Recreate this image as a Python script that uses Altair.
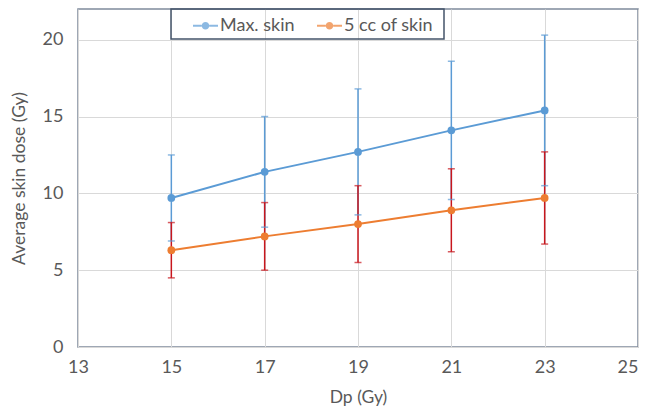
import altair as alt
import pandas as pd

dp = [15, 17, 19, 21, 23]
series_names = ["Max. skin", "5 cc of skin"]
max_skin = [9.7, 11.4, 12.7, 14.1, 15.4]
max_skin_err = [2.8, 3.6, 4.1, 4.5, 4.9]
cc5 = [6.3, 7.2, 8.0, 8.9, 9.7]
cc5_err = [1.8, 2.2, 2.5, 2.7, 3.0]
line_colors = ["#5b9bd5", "#ed7d31"]
err_colors = ["#5b9bd5", "#c8161d"]

rows = []
for name, vals, errs, ec in [
    (series_names[0], max_skin, max_skin_err, err_colors[0]),
    (series_names[1], cc5, cc5_err, err_colors[1]),
]:
    for x, v, e in zip(dp, vals, errs):
        rows.append({"dp": x, "dose": v, "lo": v - e, "hi": v + e, "series": name, "ecol": ec})
df = pd.DataFrame(rows)

font = "Lato"
txt = "#595959"

x_enc = alt.X("dp:Q", scale=alt.Scale(domain=[13, 25], nice=False, zero=False),
              axis=alt.Axis(values=list(range(13, 26, 2)), title="Dp (Gy)", labelFlush=False,
                            labelAlign={"condition": {"test": "datum.value >= 25", "value": "right"},
                                        "value": "center"},
                            labelPadding=11, titlePadding=12))
y_scale = alt.Scale(domain=[0, 22], nice=False)
y_axis = alt.Axis(values=[0, 5, 10, 15, 20], title="Average skin dose (Gy)",
                  labelPadding=15, titlePadding=14)

base = alt.Chart(df)

rules = base.mark_rule(strokeWidth=1.5).encode(
    x=x_enc,
    y=alt.Y("lo:Q", scale=y_scale, axis=y_axis),
    y2="hi:Q",
    color=alt.Color("ecol:N", scale=None),
)
cap_lo = base.mark_tick(orient="horizontal", size=7, thickness=1.5).encode(
    x="dp:Q", y="lo:Q", color=alt.Color("ecol:N", scale=None))
cap_hi = base.mark_tick(orient="horizontal", size=7, thickness=1.5).encode(
    x="dp:Q", y="hi:Q", color=alt.Color("ecol:N", scale=None))

sym = ("M-1,-0.08H-0.3V0.08H-1Z M0.3,-0.08H1V0.08H0.3Z "
       "M-0.3,0A0.3,0.3,0,1,0,0.3,0A0.3,0.3,0,1,0,-0.3,0Z")
legend = alt.Legend(
    title=" ", titleOrient="right", titlePadding=7, titleFontSize=8,
    orient="none", legendX=93, legendY=0,
    direction="horizontal", columns=2, columnPadding=4,
    symbolType=sym, symbolSize=625, symbolStrokeWidth=0,
    symbolOffset=18, padding=4, labelOffset=2,
    labelFont=font, labelFontSize=18, labelColor=txt,
    strokeColor="#44546a",
)
color_scale = alt.Scale(domain=series_names, range=line_colors)
color_enc = alt.Color("series:N", scale=color_scale, sort=series_names, legend=legend)

lines = base.mark_line(strokeWidth=2).encode(
    x="dp:Q", y="dose:Q", color=color_enc,
)
points = base.mark_point(filled=True, size=60, opacity=1).encode(
    x="dp:Q", y="dose:Q", color=color_enc,
)

chart = alt.layer(rules, cap_lo, cap_hi, lines, points).properties(
    width=560, height=338,
    autosize=alt.AutoSizeParams(type="none"),
    padding={"left": 70, "top": 1, "right": 2, "bottom": 59},
).configure_view(
    stroke="#7f8a9c", strokeWidth=1.5,
).configure_axis(
    grid=True, gridColor="#d9d9d9", gridWidth=1, domain=False, ticks=False, tickSize=0,
    labelFont=font, labelFontSize=18, labelColor=txt,
    titleFont=font, titleFontSize=17.5, titleColor=txt, titleFontWeight="normal",
).configure_legend(
    strokeWidth=1.5,
)

chart.save("out.html", embed_options={"renderer": "svg", "actions": False})
